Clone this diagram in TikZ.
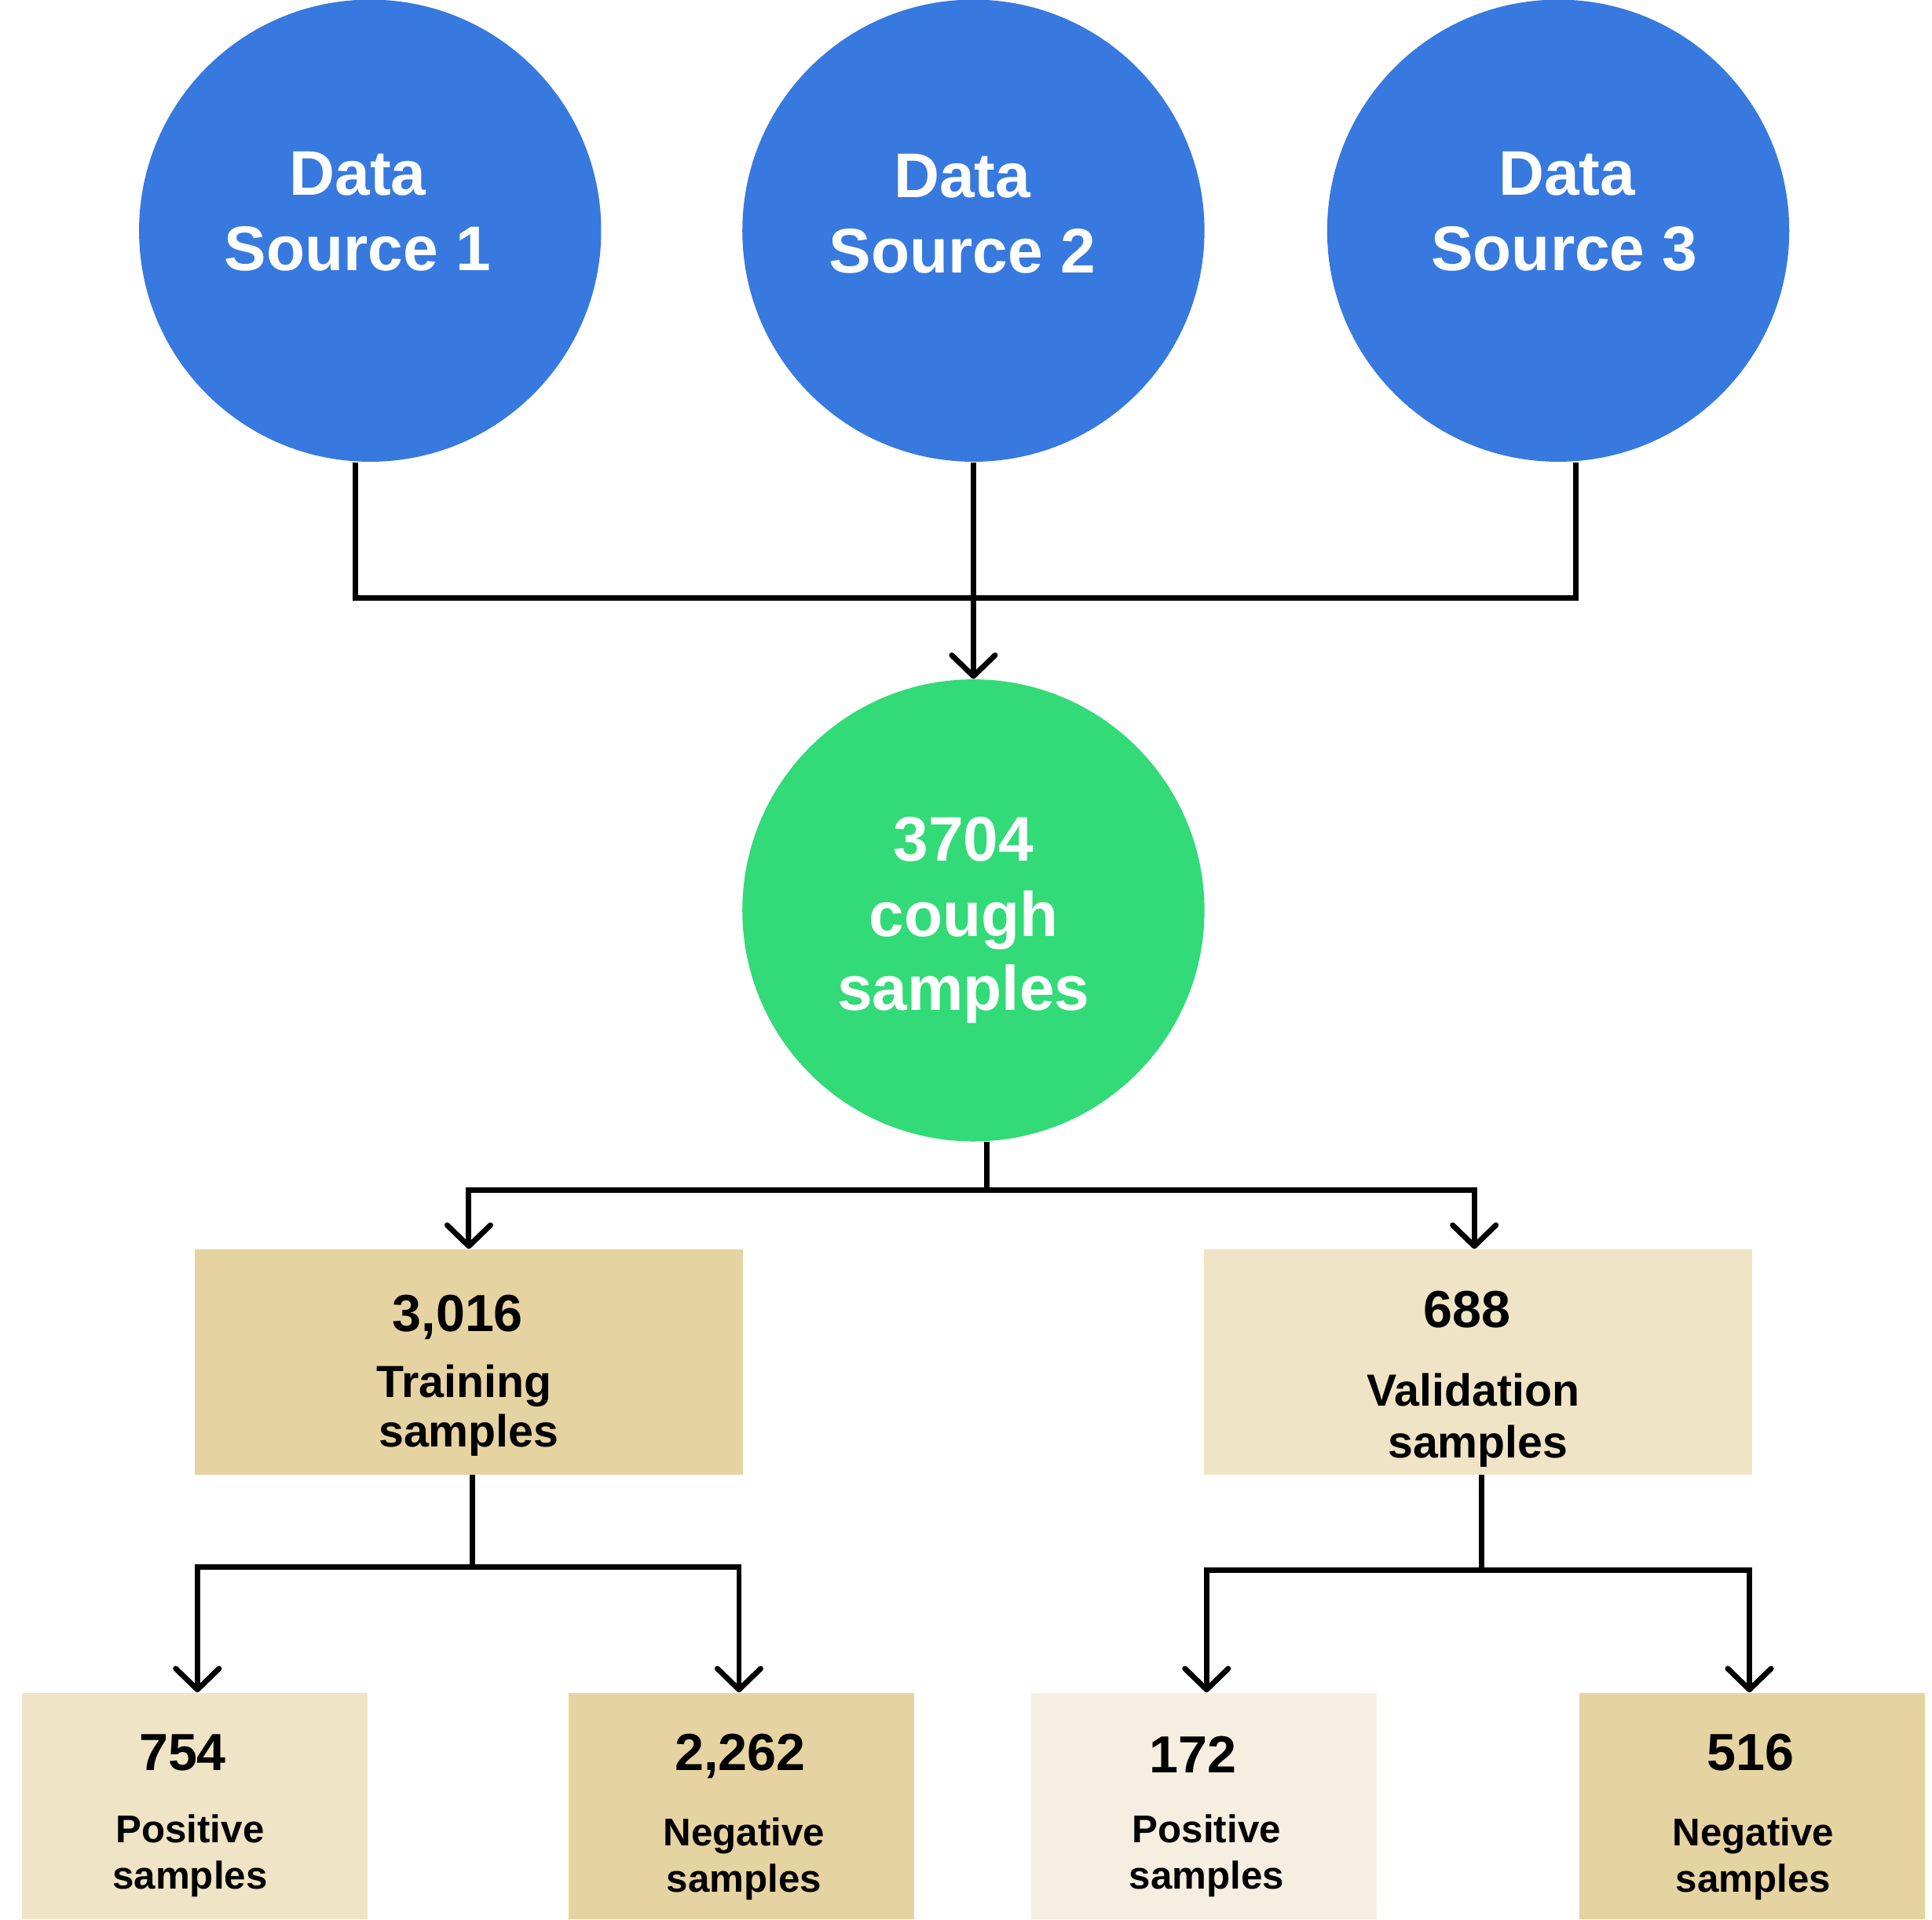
\documentclass[tikz,border=0pt]{standalone}
\usepackage{fontspec}
\setmainfont{Liberation Sans}
\usetikzlibrary{arrows.meta}
\definecolor{srcblue}{HTML}{3779DE}
\definecolor{poolgreen}{HTML}{33DA78}
\definecolor{tandark}{HTML}{E6D3A2}
\definecolor{tanlight}{HTML}{F0E4C6}
\definecolor{tanpale}{HTML}{F6EFE1}
\begin{document}
\begin{tikzpicture}[x=0.01995cm,y=-0.01995cm,
  src/.style={circle,fill=srcblue,minimum size=7.47cm,inner sep=0},
  pool/.style={circle,fill=poolgreen,minimum size=7.47cm,inner sep=0},
  split/.style={rectangle,minimum width=8.86cm,minimum height=3.64cm,inner sep=0},
  leaf/.style={rectangle,minimum width=5.59cm,minimum height=3.66cm,inner sep=0},
  big/.style={anchor=base,inner sep=0,text=white,font=\fontsize{29}{34}\selectfont\bfseries},
  num/.style={anchor=base,inner sep=0,font=\fontsize{24}{28}\selectfont\bfseries},
  lbl/.style={anchor=base,inner sep=0,font=\fontsize{20.7}{24}\selectfont\bfseries},
  sml/.style={anchor=base,inner sep=0,font=\fontsize{17.8}{21}\selectfont\bfseries},
  link/.style={line width=2.5pt},
  arr/.style={link,-{Straight Barb[length=3.4mm,width=7mm,round]}}]
\useasboundingbox (0,0) rectangle (1566,1556);

% sources
\node[src] (ds1) at (300,187) {};
\node[src] (ds2) at (789,187) {};
\node[src] (ds3) at (1263,187) {};
\node[big] (ds1a) at (290,158) {Data};
\node[big] (ds1b) at (290,219) {Source 1};
\node[big] (ds2a) at (780,160) {Data};
\node[big] (ds2b) at (780,221) {Source 2};
\node[big] (ds3a) at (1270,158) {Data};
\node[big] (ds3b) at (1268,219) {Source 3};

% pooled set
\node[pool] (pool) at (789,738) {};
\node[big] (poola) at (781,698) {3704};
\node[big] (poolb) at (781,759) {cough};
\node[big] (poolc) at (781,819) {samples};

% split
\node[split,fill=tandark] (train) at (380,1104) {};
\node[split,fill=tanlight] (valid) at (1198,1104) {};
\node[num] (traina) at (371,1079) {3,016};
\node[lbl] (trainb) at (376,1133) {Training};
\node[lbl] (trainc) at (380,1173) {samples};
\node[num] (valida) at (1189,1076) {688};
\node[lbl] (validb) at (1194,1140) {Validation};
\node[lbl] (validc) at (1198,1182) {samples};

% classes
\node[leaf,fill=tanlight] (pos1) at (158,1464) {};
\node[leaf,fill=tandark] (neg1) at (601,1464) {};
\node[leaf,fill=tanpale] (pos2) at (976,1464) {};
\node[leaf,fill=tandark] (neg2) at (1420,1464) {};
\node[num] (pos1a) at (148,1435) {754};
\node[sml] (pos1b) at (154,1494) {Positive};
\node[sml] (pos1c) at (154,1531) {samples};
\node[num] (neg1a) at (600,1435) {2,262};
\node[sml] (neg1b) at (603,1496) {Negative};
\node[sml] (neg1c) at (603,1534) {samples};
\node[num] (pos2a) at (967,1437) {172};
\node[sml] (pos2b) at (978,1494) {Positive};
\node[sml] (pos2c) at (978,1531) {samples};
\node[num] (neg2a) at (1419,1435) {516};
\node[sml] (neg2b) at (1421,1496) {Negative};
\node[sml] (neg2c) at (1421,1534) {samples};

% connectors
\coordinate (jtop) at (790,485);
\coordinate (jmid) at (800,965);
\coordinate (jtrain) at (383,1270);
\coordinate (jvalid) at (1201,1273);

\draw[link] ([xshift=-0.24cm]ds1.south) |- (jtop) -| ([xshift=0.28cm]ds3.south);
\draw[arr] (ds2) -- (pool);
\draw[link] (pool.south -| jmid) -- (jmid);
\draw[arr] (jmid) -| (train.north);
\draw[arr] (jmid) -| ([xshift=-0.06cm]valid.north);
\draw[link] (train.south -| jtrain) -- (jtrain);
\draw[arr] (jtrain) -| ([xshift=0.04cm]pos1.north);
\draw[arr] (jtrain) -| ([xshift=-0.04cm]neg1.north);
\draw[link] (valid.south -| jvalid) -- (jvalid);
\draw[arr] (jvalid) -| ([xshift=0.04cm]pos2.north);
\draw[arr] (jvalid) -| ([xshift=-0.04cm]neg2.north);

\end{tikzpicture}
\end{document}
